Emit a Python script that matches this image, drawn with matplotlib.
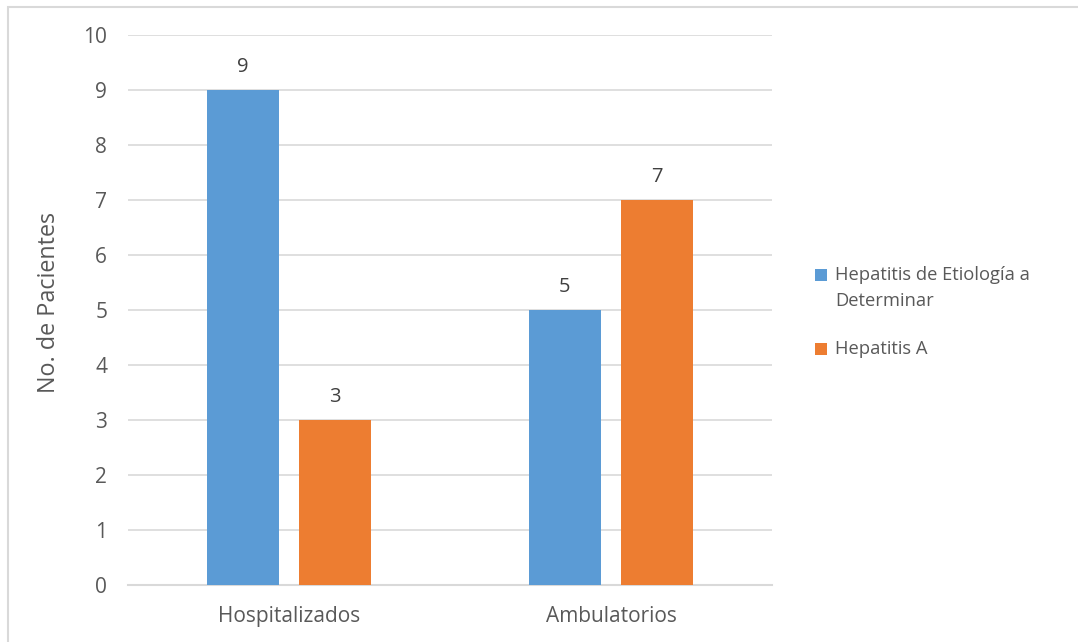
import numpy as np
import matplotlib.pyplot as plt
from matplotlib.patches import Rectangle

plt.rcParams['font.family'] = ['Open Sans', 'DejaVu Sans']

# Datos
categorias = ['Hospitalizados', 'Ambulatorios']
serie_nombres = ['Hepatitis de Etiología a\nDeterminar', 'Hepatitis A']
etiologia_det = [9, 5]
hepatitis_a = [3, 7]
yticks = list(range(0, 11))

azul = '#5B9BD5'
naranja = '#ED7D31'
gris_texto = '#595959'
gris_linea = '#D9D9D9'

fig = plt.figure(figsize=(10.78, 6.42), dpi=100)
ax = fig.add_axes([0.1187, 0.0888, 0.5974, 0.8567])

x = np.arange(len(categorias))
ancho = 0.224
desp = 0.143

b1 = ax.bar(x - desp, etiologia_det, ancho, color=azul, zorder=3)
b2 = ax.bar(x + desp, hepatitis_a, ancho, color=naranja, zorder=3)

# Etiquetas de valor sobre las barras
for barras in (b1, b2):
    for rect in barras:
        h = rect.get_height()
        ax.annotate(f'{h:g}', (rect.get_x() + rect.get_width() / 2, h),
                    xytext=(0, 9), textcoords='offset points',
                    ha='center', va='bottom', fontsize=14.5, color='#404040')

ax.set_xlim(-0.5, 1.5)
ax.set_ylim(0, 10)
ax.set_yticks(yticks)
ax.set_xticks(x)
ax.set_xticklabels(categorias)
ax.tick_params(axis='both', length=0, labelsize=15, labelcolor=gris_texto)
ax.tick_params(axis='y', pad=15)
ax.tick_params(axis='x', pad=15)
ax.yaxis.grid(True, color=gris_linea, linewidth=1.2, zorder=0)
ax.set_axisbelow(True)
for lado in ('top', 'right', 'left'):
    ax.spines[lado].set_visible(False)
ax.spines['bottom'].set_color(gris_linea)
ax.spines['bottom'].set_linewidth(1.5)

ax.set_ylabel('No. de Pacientes', fontsize=16.8, color=gris_texto)
ax.yaxis.set_label_coords(-0.104, 0.513)

# Leyenda dibujada a mano: cuadro de color alineado con la primera línea
leg_y = [275, 349]
for color, nombre, yy in zip((azul, naranja), serie_nombres, leg_y):
    yf = 1 - yy / 642
    fig.patches.append(Rectangle((815 / 1078, yf - 6 / 642), 12 / 1078, 12 / 642,
                                 transform=fig.transFigure, facecolor=color,
                                 edgecolor='none'))
    fig.text(835 / 1078, yf + 9 / 642, nombre, ha='left', va='top',
             fontsize=13.2, color=gris_texto, linespacing=1.55)

# Borde del gráfico
fig.patches.append(Rectangle((8 / 1078, -0.1), 1.2, 1 - 7 / 642 + 0.1,
                             transform=fig.transFigure, fill=False,
                             edgecolor='#D9D9D9', linewidth=1.5))

fig.savefig('out.png', dpi=100)
